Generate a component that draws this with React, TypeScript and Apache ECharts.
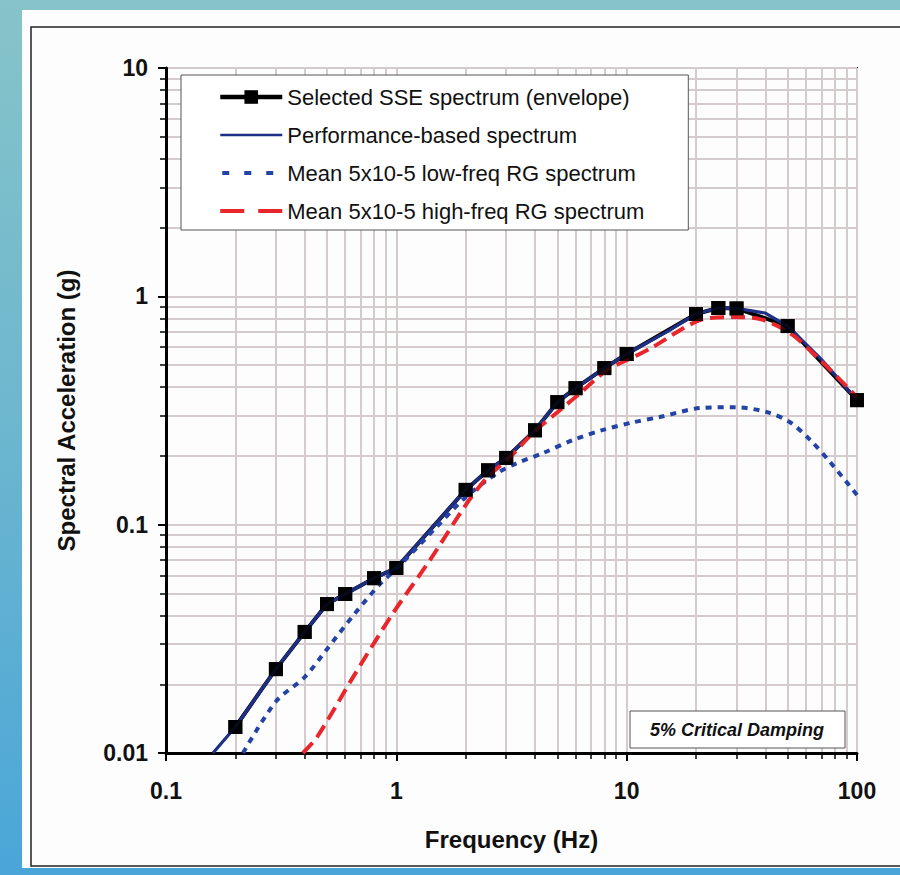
import React, { useEffect, useRef } from "react";
import * as echarts from "echarts";

// Selected SSE spectrum (envelope) – marker points
const sseFreq = [0.2, 0.3, 0.4, 0.5, 0.6, 0.8, 1, 2, 2.5, 3, 4, 5, 6, 8, 10, 20, 25, 30, 50, 100];
const sseVals = [0.013, 0.0233, 0.0339, 0.0449, 0.0497, 0.0583, 0.0646, 0.142, 0.173, 0.196, 0.259, 0.344, 0.396, 0.485, 0.559, 0.837, 0.889, 0.885, 0.741, 0.351];

// Performance-based spectrum
const perfFreq = [0.16, 0.2, 0.3, 0.4, 0.5, 0.6, 0.8, 1, 2, 2.5, 3, 4, 5, 6, 8, 10, 15, 20, 25, 30, 40, 50, 70, 100];
const perfVals = [0.01, 0.013, 0.0233, 0.0339, 0.0449, 0.0497, 0.0583, 0.0646, 0.142, 0.173, 0.196, 0.259, 0.344, 0.396, 0.485, 0.559, 0.70, 0.837, 0.889, 0.885, 0.845, 0.741, 0.53, 0.351];

// Mean 5x10-5 low-freq RG spectrum
const lowFreq = [0.216, 0.3, 0.4, 0.5, 0.65, 0.85, 1, 1.5, 2, 2.74, 3.34, 4.34, 5.85, 7.9, 10.7, 13.9, 20.8, 29.6, 40.7, 51.2, 62.6, 76.4, 100];
const lowVals = [0.01, 0.0168, 0.0215, 0.0285, 0.04, 0.055, 0.064, 0.098, 0.132, 0.168, 0.186, 0.206, 0.235, 0.26, 0.281, 0.296, 0.324, 0.327, 0.311, 0.281, 0.235, 0.188, 0.135];

// Mean 5x10-5 high-freq RG spectrum
const highFreq = [0.393, 0.453, 0.649, 0.968, 1.4, 2.03, 2.48, 3.12, 3.92, 5.14, 6.28, 8.22, 10.7, 13.0, 20.8, 28.1, 37.9, 51.2, 67.1, 93.3, 100];
const highVals = [0.01, 0.01175, 0.0215, 0.041, 0.07, 0.1245, 0.161, 0.198, 0.252, 0.318, 0.377, 0.475, 0.542, 0.6, 0.787, 0.811, 0.795, 0.69, 0.542, 0.389, 0.36];

const legendNames = [
  "Selected SSE spectrum (envelope)",
  "Performance-based spectrum",
  "Mean 5x10-5 low-freq RG spectrum",
  "Mean 5x10-5 high-freq RG spectrum",
];

const xTitle = "Frequency (Hz)";
const yTitle = "Spectral Acceleration (g)";
const noteText = "5% Critical Damping";

const pair = (xs: number[], ys: number[]) => xs.map((x, i) => [x, ys[i]]);
const fmt = (v: number) => parseFloat(Number(v).toPrecision(6)).toString();

const NAVY = "#1e2f86";
const BLUE = "#2443a6";
const RED = "#e8262c";

export default function App() {
  const ref = useRef<HTMLDivElement>(null);
  useEffect(() => {
    if (!ref.current) return;
    const chart = echarts.init(ref.current, undefined, { renderer: "svg" });
    const font = "'Liberation Sans', Arial, sans-serif";
    const gridLine = { show: true, lineStyle: { color: "#d4cccc", width: 2 } };
    const hidden = { color: "transparent", opacity: 0, borderWidth: 0 };
    chart.setOption({
      animation: false,
      backgroundColor: "transparent",
      textStyle: { fontFamily: font },
      grid: { left: 166, right: 43, top: 68, bottom: 122, show: true, borderColor: "#000", borderWidth: 2, backgroundColor: "transparent" },
      xAxis: {
        type: "log",
        logBase: 10,
        min: 0.1,
        max: 100,
        name: xTitle,
        nameLocation: "middle",
        nameGap: 74,
        nameTextStyle: { fontSize: 24, fontWeight: "bold", color: "#111", fontFamily: font },
        axisLine: { show: true, lineStyle: { color: "#000", width: 3 } },
        axisTick: { show: true, length: 8, lineStyle: { color: "#000", width: 2 } },
        minorTick: { show: true, splitNumber: 9, length: 6, lineStyle: { color: "#000", width: 1.5 } },
        splitLine: gridLine,
        minorSplitLine: gridLine,
        axisLabel: { fontSize: 23, fontWeight: "bold", color: "#111", margin: 26, formatter: fmt },
      },
      yAxis: {
        type: "log",
        logBase: 10,
        min: 0.01,
        max: 10,
        name: yTitle,
        nameLocation: "middle",
        nameRotate: 90,
        nameGap: 88,
        nameTextStyle: { fontSize: 24, fontWeight: "bold", color: "#111", fontFamily: font },
        axisLine: { show: true, lineStyle: { color: "#000", width: 3 } },
        axisTick: { show: true, length: 8, lineStyle: { color: "#000", width: 2 } },
        minorTick: { show: true, splitNumber: 9, length: 6, lineStyle: { color: "#000", width: 1.5 } },
        splitLine: gridLine,
        minorSplitLine: gridLine,
        axisLabel: { fontSize: 23, fontWeight: "bold", color: "#111", margin: 18, formatter: fmt },
      },
      legend: {
        orient: "vertical",
        left: 181,
        top: 75,
        data: [
          { name: legendNames[0], lineStyle: { color: "#000", width: 4.5 }, itemStyle: { color: "#000" } },
          { name: legendNames[1], lineStyle: { color: NAVY, width: 2.5 }, itemStyle: hidden },
          { name: legendNames[2], lineStyle: { color: BLUE, width: 4, type: [7, 15], dashOffset: -2 }, itemStyle: hidden },
          { name: legendNames[3], lineStyle: { color: RED, width: 4, type: [24, 14] }, itemStyle: hidden },
        ],
        backgroundColor: "#fff",
        borderColor: "#555",
        borderWidth: 1,
        borderRadius: 0,
        padding: [10, 44, 7, 37],
        itemGap: 14,
        itemWidth: 62,
        itemHeight: 17,
        textStyle: { fontSize: 22, color: "#111", fontFamily: font, lineHeight: 24 },
        selectedMode: false,
        z: 10,
      },
      graphic: [
        { type: "rect", z: -10, silent: true, shape: { x: 22, y: 10, width: 900, height: 858 }, style: { fill: "#fdfdfd" } },
        { type: "rect", z: -9, silent: true, shape: { x: 31, y: 27, width: 900, height: 839 }, style: { fill: "none", stroke: "#222", lineWidth: 1.5 } },
        { type: "rect", z: 20, silent: true, shape: { x: 630, y: 711, width: 215, height: 37 }, style: { fill: "#fff", stroke: "#555", lineWidth: 1 } },
        { type: "text", z: 21, silent: true, x: 737, y: 730, style: { text: noteText, fontSize: 18, fontWeight: "bold", fontStyle: "italic", fontFamily: font, fill: "#111", align: "center", verticalAlign: "middle" } },
      ],
      series: [
        {
          name: legendNames[0],
          type: "line",
          data: pair(sseFreq, sseVals),
          symbol: "rect",
          symbolSize: 14,
          showSymbol: true,
          itemStyle: { color: "#000" },
          lineStyle: { color: "#000", width: 4 },
          z: 2,
        },
        {
          name: legendNames[1],
          type: "line",
          data: pair(perfFreq, perfVals),
          symbol: "none",
          showSymbol: false,
          itemStyle: { color: NAVY },
          lineStyle: { color: NAVY, width: 3.2 },
          z: 3,
        },
        {
          name: legendNames[2],
          type: "line",
          data: pair(lowFreq, lowVals),
          symbol: "none",
          showSymbol: false,
          smooth: 0.3,
          itemStyle: { color: BLUE },
          lineStyle: { color: BLUE, width: 4, type: [6, 6] },
          z: 4,
        },
        {
          name: legendNames[3],
          type: "line",
          data: pair(highFreq, highVals),
          symbol: "none",
          showSymbol: false,
          smooth: 0.3,
          itemStyle: { color: RED },
          lineStyle: { color: RED, width: 4, type: [14, 7] },
          z: 5,
        },
        {
          name: "SSE markers",
          type: "scatter",
          data: pair(sseFreq, sseVals),
          symbol: "rect",
          symbolSize: 14,
          itemStyle: { color: "#000" },
          z: 6,
        },
      ],
    });
    return () => chart.dispose();
  }, []);
  return (
    <div
      style={{
        position: "fixed",
        left: 0,
        top: 0,
        width: 900,
        height: 875,
        background: "linear-gradient(180deg, #86c4c9 0%, #6cb6cf 50%, #4aa6d8 100%)",
      }}
    >
      <div ref={ref} style={{ width: 900, height: 875 }} />
    </div>
  );
}
